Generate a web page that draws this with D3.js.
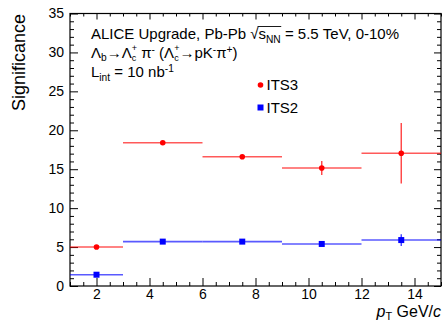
<!DOCTYPE html>
<html>
<head>
<meta charset="utf-8">
<script src="https://cdn.jsdelivr.net/npm/d3@7"></script>
<style>
  body { margin: 0; background: #fff; }
  text { font-family: "Liberation Sans", Arial, sans-serif; fill: #000; white-space: pre; }
</style>
</head>
<body>
<svg id="chart"></svg>
<script>
// pT bins
var binLo = [1, 3, 6, 9, 12];
var binHi = [3, 6, 9, 12, 15];
var binMid = [2, 4.5, 7.5, 10.5, 13.5];

// significance values
var its3 = [5.0, 18.4, 16.6, 15.15, 17.05];
var its3Err = [0.15, 0.2, 0.15, 0.9, 3.9];
var its2 = [1.45, 5.7, 5.7, 5.4, 5.9];
var its2Err = [0.1, 0.15, 0.15, 0.2, 0.75];

var xMajor = [2, 4, 6, 8, 10, 12, 14];
var yMajor = [0, 5, 10, 15, 20, 25, 30, 35];

var W = 442, H = 320;
var svg = d3.select("#chart").attr("width", W).attr("height", H);

var x = d3.scaleLinear().domain([1, 15]).range([70, 441]);
var y = d3.scaleLinear().domain([0, 35]).range([286, 13.5]);

var xMinor = d3.range(1, 15.01, 0.5).filter(function(d) { return xMajor.indexOf(d) < 0; });
var yMinor = d3.range(0, 35.01, 1).filter(function(d) { return yMajor.indexOf(d) < 0; });

var NB = "\u00A0";

function styleAxis(g) {
  g.select(".domain").remove();
  g.selectAll("line").attr("stroke", "#000").attr("stroke-width", 1);
  g.selectAll("text").attr("font-size", 14).attr("font-family", "Liberation Sans, Arial, sans-serif");
}

// bottom
svg.append("g").attr("transform", "translate(0,286)")
  .call(d3.axisBottom(x).tickValues(xMajor).tickSize(-8).tickPadding(3).tickFormat(d3.format("d")))
  .call(styleAxis);
svg.append("g").attr("transform", "translate(0,286)")
  .call(d3.axisBottom(x).tickValues(xMinor).tickSize(-4).tickFormat(""))
  .call(styleAxis);
// top
svg.append("g").attr("transform", "translate(0,13.5)")
  .call(d3.axisTop(x).tickValues(xMajor).tickSize(-6).tickFormat(""))
  .call(styleAxis);
svg.append("g").attr("transform", "translate(0,13.5)")
  .call(d3.axisTop(x).tickValues(xMinor).tickSize(-3).tickFormat(""))
  .call(styleAxis);
// left
svg.append("g").attr("transform", "translate(70,0)")
  .call(d3.axisLeft(y).tickValues(yMajor).tickSize(-8).tickPadding(6).tickFormat(d3.format("d")))
  .call(styleAxis);
svg.append("g").attr("transform", "translate(70,0)")
  .call(d3.axisLeft(y).tickValues(yMinor).tickSize(-4).tickFormat(""))
  .call(styleAxis);
// right
svg.append("g").attr("transform", "translate(441,0)")
  .call(d3.axisRight(y).tickValues(yMajor).tickSize(-7).tickFormat(""))
  .call(styleAxis);
svg.append("g").attr("transform", "translate(441,0)")
  .call(d3.axisRight(y).tickValues(yMinor).tickSize(-4).tickFormat(""))
  .call(styleAxis);

// frame
svg.append("rect")
  .attr("x", x(1)).attr("y", y(35))
  .attr("width", x(15) - x(1)).attr("height", y(0) - y(35))
  .attr("fill", "none").attr("stroke", "#000").attr("stroke-width", 1.2);

// series
function drawSeries(vals, errs, color, marker) {
  var g = svg.append("g");
  g.selectAll(".hbar").data(vals).enter().append("line")
    .attr("x1", function(d, i) { return x(binLo[i]); })
    .attr("x2", function(d, i) { return x(binHi[i]); })
    .attr("y1", function(d) { return y(d); })
    .attr("y2", function(d) { return y(d); })
    .attr("stroke", color).attr("stroke-width", 1.6).attr("stroke-opacity", 0.65);
  g.selectAll(".vbar").data(vals).enter().append("line")
    .attr("x1", function(d, i) { return x(binMid[i]); })
    .attr("x2", function(d, i) { return x(binMid[i]); })
    .attr("y1", function(d, i) { return y(d + errs[i]); })
    .attr("y2", function(d, i) { return y(d - errs[i]); })
    .attr("stroke", color).attr("stroke-width", 1.4).attr("stroke-opacity", 0.75);
  if (marker === "circle") {
    g.selectAll(".pt").data(vals).enter().append("circle")
      .attr("cx", function(d, i) { return x(binMid[i]); })
      .attr("cy", function(d) { return y(d); })
      .attr("r", 2.8).attr("fill", color);
  } else {
    g.selectAll(".pt").data(vals).enter().append("rect")
      .attr("x", function(d, i) { return x(binMid[i]) - 3; })
      .attr("y", function(d) { return y(d) - 3; })
      .attr("width", 6).attr("height", 6).attr("fill", color);
  }
}
drawSeries(its3, its3Err, "#ff0000", "circle");
drawSeries(its2, its2Err, "#0000ff", "square");

// one text element per line, pieces are tspans placed one after another;
// a "stack" piece is put under the previous one (sub + sup on the same letter)
function rich(g, x0, y0, size, parts) {
  var txt = g.append("text").attr("font-size", size);
  var cx = x0, stackStart = x0, stackEnd = x0, pos = [];
  parts.forEach(function(p) {
    var start = p.stack ? stackStart : cx;
    var fs = p.fs ? p.fs : (p.small ? size * 0.68 : size);
    var t = txt.append("tspan")
      .attr("x", start).attr("y", y0 + (p.dy || 0))
      .attr("font-size", fs)
      .text(p.t);
    if (p.italic) t.attr("font-style", "italic");
    var w = t.node().getComputedTextLength();
    pos.push([start, start + w]);
    if (p.stack) {
      cx = Math.max(stackEnd, start + w);
    } else {
      stackStart = start;
      stackEnd = start + w;
      cx = start + w;
    }
  });
  return { text: txt, end: cx, pos: pos };
}

var lab = svg.append("g");
var l1 = rich(lab, 91, 39, 15, [
  { t: "ALICE Upgrade, Pb-Pb" + NB },
  { t: "\u221A" },
  { t: "s" },
  { t: "NN", small: true, dy: 3.5 },
  { t: NB + "=" + NB + "5.5" + NB + "TeV," + NB + "0-10%" }
]);
lab.append("line")
  .attr("x1", l1.pos[1][1] - 1).attr("x2", l1.pos[3][1] + 0.5)
  .attr("y1", 26.5).attr("y2", 26.5)
  .attr("stroke", "#000").attr("stroke-width", 0.9);

rich(lab, 91, 57.5, 15, [
  { t: "\u039B" },
  { t: "b", small: true, dy: 3.5 },
  { t: "\u2192\u039B" },
  { t: "+", fs: 9, dy: -6.5 },
  { t: "c", fs: 9, dy: 3.8, stack: true },
  { t: NB + "\u03C0" },
  { t: "-", small: true, dy: -5 },
  { t: NB + "(\u039B" },
  { t: "+", fs: 9, dy: -6.5 },
  { t: "c", fs: 9, dy: 3.8, stack: true },
  { t: "\u2192pK" },
  { t: "-", small: true, dy: -5 },
  { t: "\u03C0" },
  { t: "+", small: true, dy: -5 },
  { t: ")" }
]);

rich(lab, 91, 77.2, 15, [
  { t: "L" },
  { t: "int", small: true, dy: 3.5 },
  { t: NB + "=" + NB + "10" + NB + "nb" },
  { t: "-1", small: true, dy: -5.5 }
]);

// legend
var leg = svg.append("g");
leg.append("circle").attr("cx", 260.5).attr("cy", 85).attr("r", 2.8).attr("fill", "#ff0000");
leg.append("text").attr("x", 266.5).attr("y", 90).attr("font-size", 15).text("ITS3");
leg.append("rect").attr("x", 257.5).attr("y", 104.5).attr("width", 6).attr("height", 6).attr("fill", "#0000ff");
leg.append("text").attr("x", 266.5).attr("y", 113).attr("font-size", 15).text("ITS2");

// axis titles
svg.append("text")
  .attr("transform", "translate(25,14) rotate(-90)")
  .attr("text-anchor", "end")
  .attr("font-size", 18)
  .text("Significance");

var xt = svg.append("g");
var xr = rich(xt, 0, 316.5, 16, [
  { t: "p", italic: true },
  { t: "T", small: true, dy: 3 },
  { t: NB + "GeV/" },
  { t: "c", italic: true }
]);
xt.attr("transform", "translate(" + (441 - xr.end) + ",0)");
</script>
</body>
</html>
